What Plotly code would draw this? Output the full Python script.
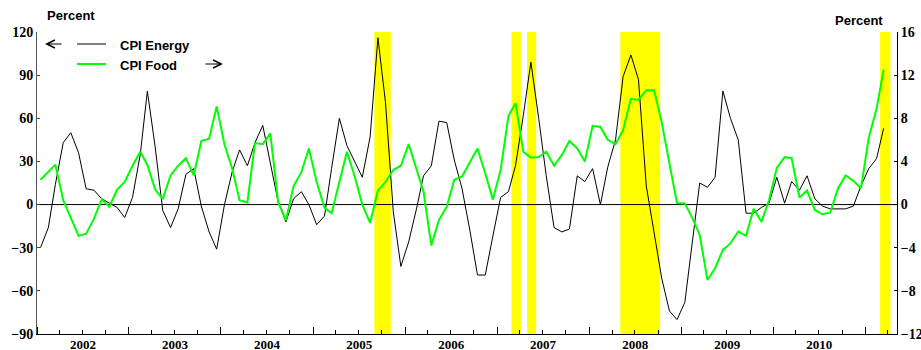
import pandas as pd
import plotly.graph_objects as go

# Monthly observations, Jan 2002 .. Mar 2011 (plotted mid-month)
start_month = "2002-01-01"
n_months = 111

cpi_energy = [
    -30, -16, 14, 43, 50, 36, 11, 10, 4, 1, -2, -9,
    5, 35, 79, 40, -4, -16, -3, 21, 25, -1, -19, -31,
    0, 23, 38, 27, 43, 55, 30, 2, -12, 4, 9, 0,
    -14, -8, 25, 60, 41, 30, 19, 47, 116, 71, -5, -43,
    -26, -3, 20, 27, 58, 57, 31, 11, -18, -49, -49, -22,
    5, 9, 27, 62, 99, 60, 20, -16, -19, -17, 20, 16,
    25, 0, 26, 45, 89, 104, 87, 13, -21, -51, -74, -80,
    -68, -26, 15, 12, 19, 79, 60, 45, -6, -6, -2, 1,
    19, 1, 16, 10, 20, 4, -1, -3, -3, -3, -1, 13,
    25, 32, 53,
]

cpi_food = [
    2.3, 3.0, 3.7, 0.4, -1.3, -2.9, -2.7, -1.3, 0.5, -0.2, 1.4, 2.1,
    3.6, 4.9, 3.7, 1.4, 0.5, 2.7, 3.6, 4.3, 2.7, 5.9, 6.1, 9.1,
    5.6, 3.3, 0.4, 0.2, 5.7, 5.6, 6.6, 0.25, -1.45, 1.7, 3.0, 5.2,
    2.1, -0.3, -0.8, 2.1, 4.9, 2.6, 0.0, -1.7, 1.3, 2.1, 3.2, 3.6,
    5.6, 3.3, 1.2, -3.8, -1.45, -0.2, 2.3, 2.6, 3.95, 5.2, 2.9, 0.46,
    3.2, 8.2, 9.4, 4.9, 4.35, 4.4, 4.9, 3.6, 4.6, 5.9, 5.2, 4.0,
    7.3, 7.2, 6.0, 5.6, 6.9, 9.8, 9.7, 10.6, 10.6, 7.65, 3.8, 0.15,
    0.1, -1.3, -2.8, -7.0, -5.9, -4.2, -3.6, -2.5, -2.9, -0.4, -1.6, 0.4,
    3.4, 4.4, 4.3, 0.65, 1.3, -0.5, -0.9, -0.75, 1.5, 2.7, 2.2, 1.5,
    6.2, 8.9, 12.5,
]

# Shaded periods (yellow bars)
shade_starts = ["2005-09-01", "2007-02-27", "2007-04-30", "2008-05-04", "2011-03-01"]
shade_ends = ["2005-11-05", "2007-04-05", "2007-06-05", "2008-10-09", "2011-04-11"]

left_ticks = [-90, -60, -30, 0, 30, 60, 90, 120]
right_ticks = [-12, -8, -4, 0, 4, 8, 12, 16]

dates = pd.date_range(start_month, periods=n_months, freq="MS") + pd.Timedelta(days=14)

fig = go.Figure()
fig.add_trace(go.Scatter(x=dates, y=cpi_food, mode="lines", name="CPI Food",
                         line=dict(color="#00FF00", width=2), yaxis="y2"))
fig.add_trace(go.Scatter(x=dates, y=cpi_energy, mode="lines", name="CPI Energy",
                         line=dict(color="black", width=1), yaxis="y"))

shapes = []
for s, e in zip(shade_starts, shade_ends):
    shapes.append(dict(type="rect", xref="x", yref="paper", x0=s, x1=e, y0=0, y1=1,
                       fillcolor="#FFFF00", line=dict(width=0), layer="below"))
shapes.append(dict(type="line", xref="paper", yref="y", x0=0, x1=1, y0=0, y1=0,
                   line=dict(color="black", width=1), layer="below"))

# legend samples (paper coords; plot area 37..897 x, 32..334 y)
W, H, L, T = 860.0, 302.0, 37.0, 32.0
def px(x):
    return (x - L) / W
def py(y):
    return (T + H - y) / H

shapes.append(dict(type="line", xref="paper", yref="paper", x0=px(77), x1=px(106),
                   y0=py(44), y1=py(44), line=dict(color="black", width=1)))
shapes.append(dict(type="line", xref="paper", yref="paper", x0=px(77), x1=px(106),
                   y0=py(64), y1=py(64), line=dict(color="#00FF00", width=2)))

lab_font = dict(family="Liberation Sans, Arial, sans-serif", size=13, color="black", weight="bold")
annotations = [
    dict(text="Percent", xref="paper", yref="paper", x=px(71), y=py(16), showarrow=False,
         xanchor="center", yanchor="middle", font=lab_font),
    dict(text="Percent", xref="paper", yref="paper", x=px(859), y=py(21), showarrow=False,
         xanchor="center", yanchor="middle", font=lab_font),
    dict(text="CPI Energy", xref="paper", yref="paper", x=px(118), y=py(45), showarrow=False,
         xanchor="left", yanchor="middle", font=lab_font),
    dict(text="CPI Food", xref="paper", yref="paper", x=px(118), y=py(65), showarrow=False,
         xanchor="left", yanchor="middle", font=lab_font),
    dict(text="", xref="paper", yref="paper", x=px(45), y=py(44), ax=18, ay=0,
         showarrow=True, arrowhead=5, arrowsize=1.6, arrowwidth=1, arrowcolor="black"),
    dict(text="", xref="paper", yref="paper", x=px(223), y=py(64), ax=-19, ay=0,
         showarrow=True, arrowhead=5, arrowsize=1.6, arrowwidth=1, arrowcolor="black"),
]

tick_font = dict(family="Liberation Serif, Times New Roman, serif", size=14, color="black", weight="bold")
xtick_font = dict(family="Liberation Serif, Times New Roman, serif", size=13, color="black", weight="bold")

fig.update_layout(
    width=921, height=350,
    margin=dict(l=37, r=24, t=32, b=16),
    paper_bgcolor="white", plot_bgcolor="white",
    showlegend=False,
    shapes=shapes,
    annotations=annotations,
    xaxis=dict(type="date", range=["2002-01-01", "2011-05-07"],
               tick0="2002-01-01", dtick="M12", tickformat="%Y", ticklabelmode="period",
               ticks="inside", ticklen=7, tickcolor="black", tickwidth=1,
               minor=dict(dtick="M3", ticks="inside", ticklen=4, tickcolor="black", showgrid=False),
               showline=True, linecolor="black", linewidth=1, showgrid=False, zeroline=False,
               tickfont=xtick_font, automargin=False, ticklabelstandoff=-2),
    yaxis=dict(range=[-90, 120], tickvals=left_ticks, ticks="inside", ticklen=3,
               tickcolor="#444", showline=True, linecolor="#555", linewidth=1,
               showgrid=False, zeroline=False, tickfont=tick_font, automargin=False),
    yaxis2=dict(range=[-12, 16], tickvals=right_ticks, overlaying="y", side="right",
                ticks="inside", ticklen=3, tickcolor="black", showline=True,
                linecolor="black", linewidth=1, showgrid=False, zeroline=False,
                tickfont=tick_font, automargin=False),
)

fig.write_html("out.html", config={"displayModeBar": False})

# remove the default page margin so the figure sits at the window's top-left corner
with open("out.html", "r", encoding="utf-8") as f:
    html = f.read()
html = html.replace("<head>", "<head><style>html,body{margin:0;padding:0;overflow:hidden;}</style>", 1)
with open("out.html", "w", encoding="utf-8") as f:
    f.write(html)
